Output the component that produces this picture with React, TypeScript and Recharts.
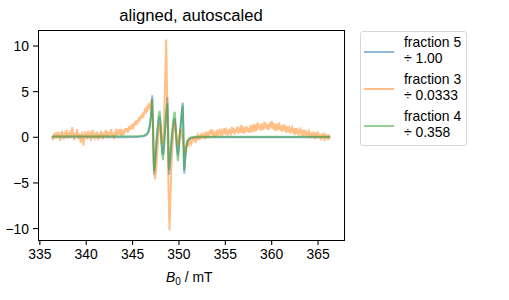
import { LineChart, Line, XAxis, YAxis } from "recharts"

// smooth spectra (fraction 5 and fraction 4) share one field grid, mT
const fieldSmooth = [
  336.3, 340, 344, 345.5, 346.2, 346.5, 346.7, 346.85, 346.97, 347.05, 347.12, 347.2, 347.27, 347.32,
  347.4, 347.5, 347.62, 347.75, 347.86, 347.93, 348.02, 348.12, 348.22, 348.29, 348.38, 348.5, 348.6,
  348.68, 348.75, 348.82, 348.88, 348.93, 349.02, 349.12, 349.25, 349.38, 349.48, 349.55, 349.65,
  349.76, 349.85, 349.9, 350.0, 350.12, 350.24, 350.34, 350.41, 350.48, 350.53, 350.58, 350.66,
  350.78, 350.92, 351.1, 351.35, 351.7, 352.2, 353, 356, 360, 366.3,
]

const fraction5 = [
  0, 0, 0, 0.02, 0.1, 0.25, 0.55, 1.2, 2.3, 3.4, 4.6, 1.5, -2.8, -4.1,
  -3.2, -1.8, -0.2, 1.2, 2.1, 2.3, 1.2, -0.6, -1.7, -1.9, -0.9, 0.8, 2.3,
  3.5, 4.4, 1.5, -2.5, -4.1, -3.0, -1.5, 0.0, 1.2, 1.9, 2.1, 1.0,
  -0.8, -1.7, -1.8, -0.9, 0.6, 2.0, 3.2, 3.8, 0.5, -2.8, -4.0, -2.6,
  -1.2, -0.5, -0.2, -0.1, -0.05, -0.02, 0, 0, 0, 0,
]

const fraction4 = [
  0.1, 0.1, 0.1, 0.12, 0.2, 0.35, 0.6, 1.2, 2.2, 3.2, 4.2, 1.4, -2.5, -3.7,
  -3.0, -1.5, 0.3, 1.8, 2.7, 2.9, 1.6, -0.6, -2.2, -2.5, -1.2, 0.7, 2.0,
  3.0, 3.7, 1.2, -2.3, -3.6, -2.8, -1.2, 0.5, 1.8, 2.6, 2.8, 1.2,
  -1.0, -2.3, -2.6, -1.3, 0.5, 1.9, 3.0, 3.5, 0.6, -2.4, -3.6, -2.4,
  -1.0, -0.4, -0.1, 0.0, 0.05, 0.05, 0.05, 0.05, 0.05, 0.05,
]

// noisy spectrum (fraction 3)
const fieldNoisy = [
  336.3, 336.4, 336.5, 336.6, 336.7, 336.8, 336.9, 337.0, 337.1, 337.2,
  337.3, 337.4, 337.5, 337.6, 337.7, 337.8, 337.9, 338.0, 338.1, 338.2,
  338.3, 338.4, 338.5, 338.6, 338.7, 338.8, 338.9, 339.0, 339.1, 339.2,
  339.3, 339.4, 339.5, 339.6, 339.7, 339.8, 339.9, 340.0, 340.1, 340.2,
  340.3, 340.4, 340.5, 340.6, 340.7, 340.8, 340.9, 341.0, 341.1, 341.2,
  341.3, 341.4, 341.5, 341.6, 341.7, 341.8, 341.9, 342.0, 342.1, 342.2,
  342.3, 342.4, 342.5, 342.6, 342.7, 342.8, 342.9, 343.0, 343.1, 343.2,
  343.3, 343.4, 343.5, 343.6, 343.7, 343.8, 343.9, 344.0, 344.1, 344.2,
  344.3, 344.4, 344.5, 344.6, 344.7, 344.8, 344.9, 345.0, 345.1, 345.2,
  345.3, 345.4, 345.5, 345.6, 345.7, 345.8, 345.9, 346.0, 346.1, 346.2,
  346.3, 346.4, 346.5, 346.6, 346.7, 346.8, 346.9, 347.0,
  347.15, 347.3, 347.42, 347.55, 347.7, 347.85, 347.95, 348.05, 348.15, 348.3,
  348.42, 348.52, 348.62, 348.7, 348.78, 348.88, 348.98, 349.08, 349.2, 349.32,
  349.45, 349.55, 349.68, 349.8, 349.92, 350.05, 350.2, 350.32, 350.45, 350.6,
  350.75, 350.9, 351.05, 351.2, 351.35, 351.5,
  351.6, 351.7, 351.8, 351.9, 352.0, 352.1, 352.2, 352.3, 352.4, 352.5,
  352.6, 352.7, 352.8, 352.9, 353.0, 353.1, 353.2, 353.3, 353.4, 353.5,
  353.6, 353.7, 353.8, 353.9, 354.0, 354.1, 354.2, 354.3, 354.4, 354.5,
  354.6, 354.7, 354.8, 354.9, 355.0, 355.1, 355.2, 355.3, 355.4, 355.5,
  355.6, 355.7, 355.8, 355.9, 356.0, 356.1, 356.2, 356.3, 356.4, 356.5,
  356.6, 356.7, 356.8, 356.9, 357.0, 357.1, 357.2, 357.3, 357.4, 357.5,
  357.6, 357.7, 357.8, 357.9, 358.0, 358.1, 358.2, 358.3, 358.4, 358.5,
  358.6, 358.7, 358.8, 358.9, 359.0, 359.1, 359.2, 359.3, 359.4, 359.5,
  359.6, 359.7, 359.8, 359.9, 360.0, 360.1, 360.2, 360.3, 360.4, 360.5,
  360.6, 360.7, 360.8, 360.9, 361.0, 361.1, 361.2, 361.3, 361.4, 361.5,
  361.6, 361.7, 361.8, 361.9, 362.0, 362.1, 362.2, 362.3, 362.4, 362.5,
  362.6, 362.7, 362.8, 362.9, 363.0, 363.1, 363.2, 363.3, 363.4, 363.5,
  363.6, 363.7, 363.8, 363.9, 364.0, 364.1, 364.2, 364.3, 364.4, 364.5,
  364.6, 364.7, 364.8, 364.9, 365.0, 365.1, 365.2, 365.3, 365.4, 365.5,
  365.6, 365.7, 365.8, 365.9, 366.0, 366.1, 366.2, 366.3,
]

const fraction3 = [
  0.1, -0.3, 0.2, 0.5, -0.1, 0.3, 0.0, 0.6, 0.2, -0.4,
  0.3, 0.7, 0.1, -0.2, 0.4, 0.2, 0.8, -0.1, 0.3, 0.5,
  0.0, 0.4, 1.1, 0.2, -0.3, 0.5, 0.1, 0.9, 0.3, -0.2,
  0.4, -0.6, 0.2, 0.6, -0.9, 0.1, 0.5, 0.3, -0.2, 0.7,
  0.2, 0.4, -0.4, 0.3, 0.8, 0.1, -0.1, 0.5, 0.2, 0.6,
  -0.3, 0.4, 0.0, 0.7, 0.3, -0.2, 0.5, 0.1, 0.8, 0.2,
  0.4, -0.1, 0.6, 0.3, 0.9, 0.1, 0.5, -0.2, 0.4, 0.7,
  0.2, 0.6, 0.3, 0.9, 0.4, 0.7, 0.2, 0.8, 0.5, 1.0,
  0.6, 1.0, 0.5, 1.2, 0.8, 1.3, 0.9, 1.5, 1.1, 1.4,
  1.8, 1.3, 1.9, 1.6, 2.2, 1.8, 2.4, 2.1, 2.7, 2.4,
  2.9, 2.6, 3.2, 3.0, 3.5, 3.3, 3.7, 3.9,
  2.0, -2.0, -4.6, -3.5, -1.0, 1.0, 1.6, 0.5, -0.8, -0.2,
  2.5, 6.5, 10.7, 6.0, 0.0, -6.0, -10.2, -6.5, -2.8, -0.5,
  1.2, 1.8, 0.6, -0.8, -0.6, 0.4, 0.9, 0.3, -0.6, -1.6,
  -1.3, -0.6, -0.9, -0.3, -0.7, 0.0,
  -0.4, 0.1, -0.6, -0.1, 0.2, -0.3, 0.3, -0.2, 0.4, 0.0,
  0.5, 0.1, -0.2, 0.6, 0.2, 0.4, -0.1, 0.7, 0.3, 0.9,
  0.2, 0.5, 0.0, 0.6, 0.3, 0.8, 0.1, 0.5, 0.9, 0.4,
  0.7, 0.2, 0.6, 1.0, 0.3, 0.8, 0.5, 0.2, 0.9, 0.6,
  0.4, 1.1, 0.5, 0.8, 0.3, 0.9, 0.6, 1.2, 0.4, 0.7,
  1.0, 0.5, 1.3, 0.7, 0.4, 1.1, 0.8, 1.2, 0.6, 1.0,
  0.5, 1.3, 0.8, 1.1, 0.6, 1.4, 0.9, 1.2, 0.7, 1.6,
  1.0, 1.3, 0.7, 1.5, 1.1, 0.8, 1.7, 1.0, 1.3, 0.9,
  1.4, 0.8, 1.6, 1.1, 1.8, 0.9, 1.3, 1.0, 1.5, 0.7,
  1.2, 0.9, 1.6, 0.8, 1.3, 0.6, 1.1, 1.4, 0.7, 1.0,
  0.5, 1.2, 0.8, 1.0, 0.4, 0.9, 1.1, 0.6, 0.8, 0.3,
  1.0, 0.6, 0.8, 0.2, 0.7, 0.9, 0.4, 0.6, 0.1, 0.8,
  0.4, 0.6, 0.0, 0.5, 0.7, 0.2, 0.5, -0.1, 0.6, 0.3,
  0.4, -0.2, 0.5, 0.2, 0.6, 0.0, 0.3, -0.3, 0.4, 0.1,
  0.3, -0.4, 0.2, 0.0, 0.3, -0.3, 0.1, -0.1,
]

const xTicks = [335, 340, 345, 350, 355, 360, 365]
const yTicks = [-10, -5, 0, 5, 10]

const seriesNames = ["fraction 5", "fraction 3", "fraction 4"]
const divisors = ["1.00", "0.0333", "0.358"]
const colors = ["#1f77b4", "#ff7f0e", "#2ca02c"]

const toRows = (xs: number[], ys: number[]) => xs.map((b, i) => ({ b, v: ys[i] }))

const FONT = "'Liberation Sans', Arial, sans-serif"
const tickStyle = { fontSize: 13.9, fill: "#000", fontFamily: FONT }
const fmtY = (v: number) => (v < 0 ? `\u2212${Math.abs(v)}` : `${v}`)

export default function App() {
  const rows = [
    toRows(fieldSmooth, fraction5),
    toRows(fieldNoisy, fraction3),
    toRows(fieldSmooth, fraction4),
  ]

  return (
    <div style={{ position: "relative", width: 509, height: 300, background: "#fff", fontFamily: FONT }}>
      <style>{`body{margin:0}`}</style>
      <div
        style={{
          position: "absolute",
          left: 38,
          width: 306,
          top: 6,
          lineHeight: "20px",
          fontSize: 16.67,
          textAlign: "center",
        }}
      >
        aligned, autoscaled
      </div>

      <LineChart width={509} height={300} margin={{ top: 30, right: 165, bottom: 0, left: 0 }}>
        <XAxis
          dataKey="b"
          type="number"
          domain={[334.8, 367.8]}
          ticks={xTicks}
          allowDataOverflow
          height={60}
          axisLine={false}
          tickSize={5}
          tickMargin={4}
          tickLine={{ stroke: "#000", strokeWidth: 1.1 }}
          tick={tickStyle}
        />
        <YAxis
          type="number"
          domain={[-11.25, 11.75]}
          ticks={yTicks}
          allowDataOverflow
          width={38}
          axisLine={false}
          tickSize={5}
          tickMargin={4}
          tickLine={{ stroke: "#000", strokeWidth: 1.1 }}
          tick={tickStyle}
          tickFormatter={fmtY}
        />
        {rows.map((data, i) => (
          <Line
            key={seriesNames[i]}
            data={data}
            dataKey="v"
            type="linear"
            stroke={colors[i]}
            strokeOpacity={0.5}
            strokeWidth={2}
            dot={false}
            isAnimationActive={false}
          />
        ))}
      </LineChart>

      {/* axes frame */}
      <div
        style={{
          position: "absolute",
          left: 38,
          top: 30,
          width: 307,
          height: 211,
          boxSizing: "border-box",
          border: "1px solid #000",
          pointerEvents: "none",
        }}
      />

      <div
        style={{
          position: "absolute",
          left: 166,
          width: 50,
          top: 267,
          lineHeight: "20px",
          fontSize: 13.9,
          whiteSpace: "nowrap",
        }}
      >
        <i>B</i>
        <span style={{ fontSize: 10, position: "relative", top: 3 }}>0</span> / mT
      </div>

      {/* legend */}
      <div
        style={{
          position: "absolute",
          left: 360,
          top: 31,
          width: 107,
          height: 115,
          boxSizing: "border-box",
          border: "1px solid rgba(204,204,204,0.8)",
          borderRadius: 3,
          fontSize: 13.9,
        }}
      >
        {seriesNames.map((name, i) => (
          <div key={name} style={{ position: "absolute", left: 0, top: 3 + i * 37, width: 105 }}>
            <div
              style={{
                position: "absolute",
                left: 3,
                top: 15.5,
                width: 30,
                height: 2,
                background: colors[i],
                opacity: 0.5,
              }}
            />
            <div style={{ position: "absolute", left: 43, top: 0, lineHeight: "15.7px", whiteSpace: "nowrap" }}>
              {name}
              <br />÷ {divisors[i]}
            </div>
          </div>
        ))}
      </div>
    </div>
  )
}
